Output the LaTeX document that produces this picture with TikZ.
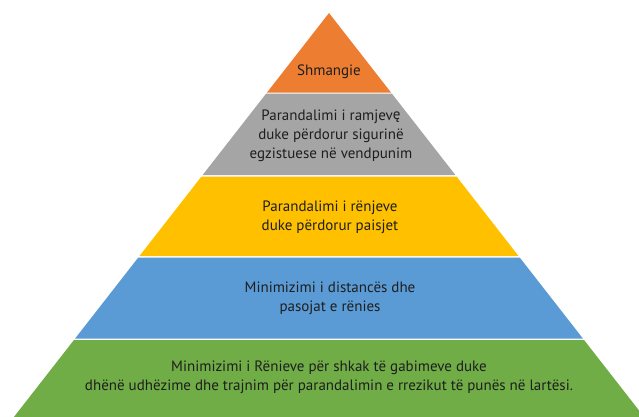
\documentclass[tikz,border=0pt]{standalone}
\usepackage{fontspec}
\setmainfont{PT Sans}
\definecolor{cOrange}{HTML}{ED7D31}
\definecolor{cGray}{HTML}{A5A5A5}
\definecolor{cYellow}{HTML}{FFC000}
\definecolor{cBlue}{HTML}{5B9BD5}
\definecolor{cGreen}{HTML}{70AD47}
\definecolor{cText}{HTML}{1E1E1E}
\newcommand{\pyrband}[3]{%
  \fill[#3] ({329-0.78*(#1-13)},#1) -- ({329+0.78*(#1-13)},#1) --
    ({329+0.78*(#2-13)},#2) -- ({329-0.78*(#2-13)},#2) -- cycle;}
\begin{document}
\begin{tikzpicture}[x=1pt,y=-1pt,
  lbl/.style={text=cText,align=center,font=\fontsize{15}{18.8}\selectfont,inner sep=0pt}]
\useasboundingbox (0,0) rectangle (639,416);
\begin{scope}
\clip (0,0) rectangle (639,416);
\fill[cOrange] (329,13) -- ({329+0.78*79.5},92.5) -- ({329-0.78*79.5},92.5) -- cycle;
\pyrband{93.5}{175}{cGray}
\pyrband{176.5}{256}{cYellow}
\pyrband{257.5}{338.5}{cBlue}
\pyrband{340}{430}{cGreen}
\end{scope}
\node[lbl] (t1) at (329,72) {Shmangie};
\node[lbl] (t2) at (331,136) {Parandalimi i ramjev\raisebox{1.5pt}{ę}\\duke përdorur sigurinë\\egzistuese në vendpunim};
\node[lbl] (t3) at (330,217) {Parandalimi i rënjeve\\duke përdorur paisjet};
\node[lbl] (t4) at (330,298) {Minimizimi i distancës dhe\\pasojat e rënies};
\node[lbl] (t5) at (329,377) {Minimizimi i Rënieve për shkak të gabimeve duke\\dhënë udhëzime dhe trajnim për parandalimin e rrezikut të punës në lartësi.};
\end{tikzpicture}
\end{document}
